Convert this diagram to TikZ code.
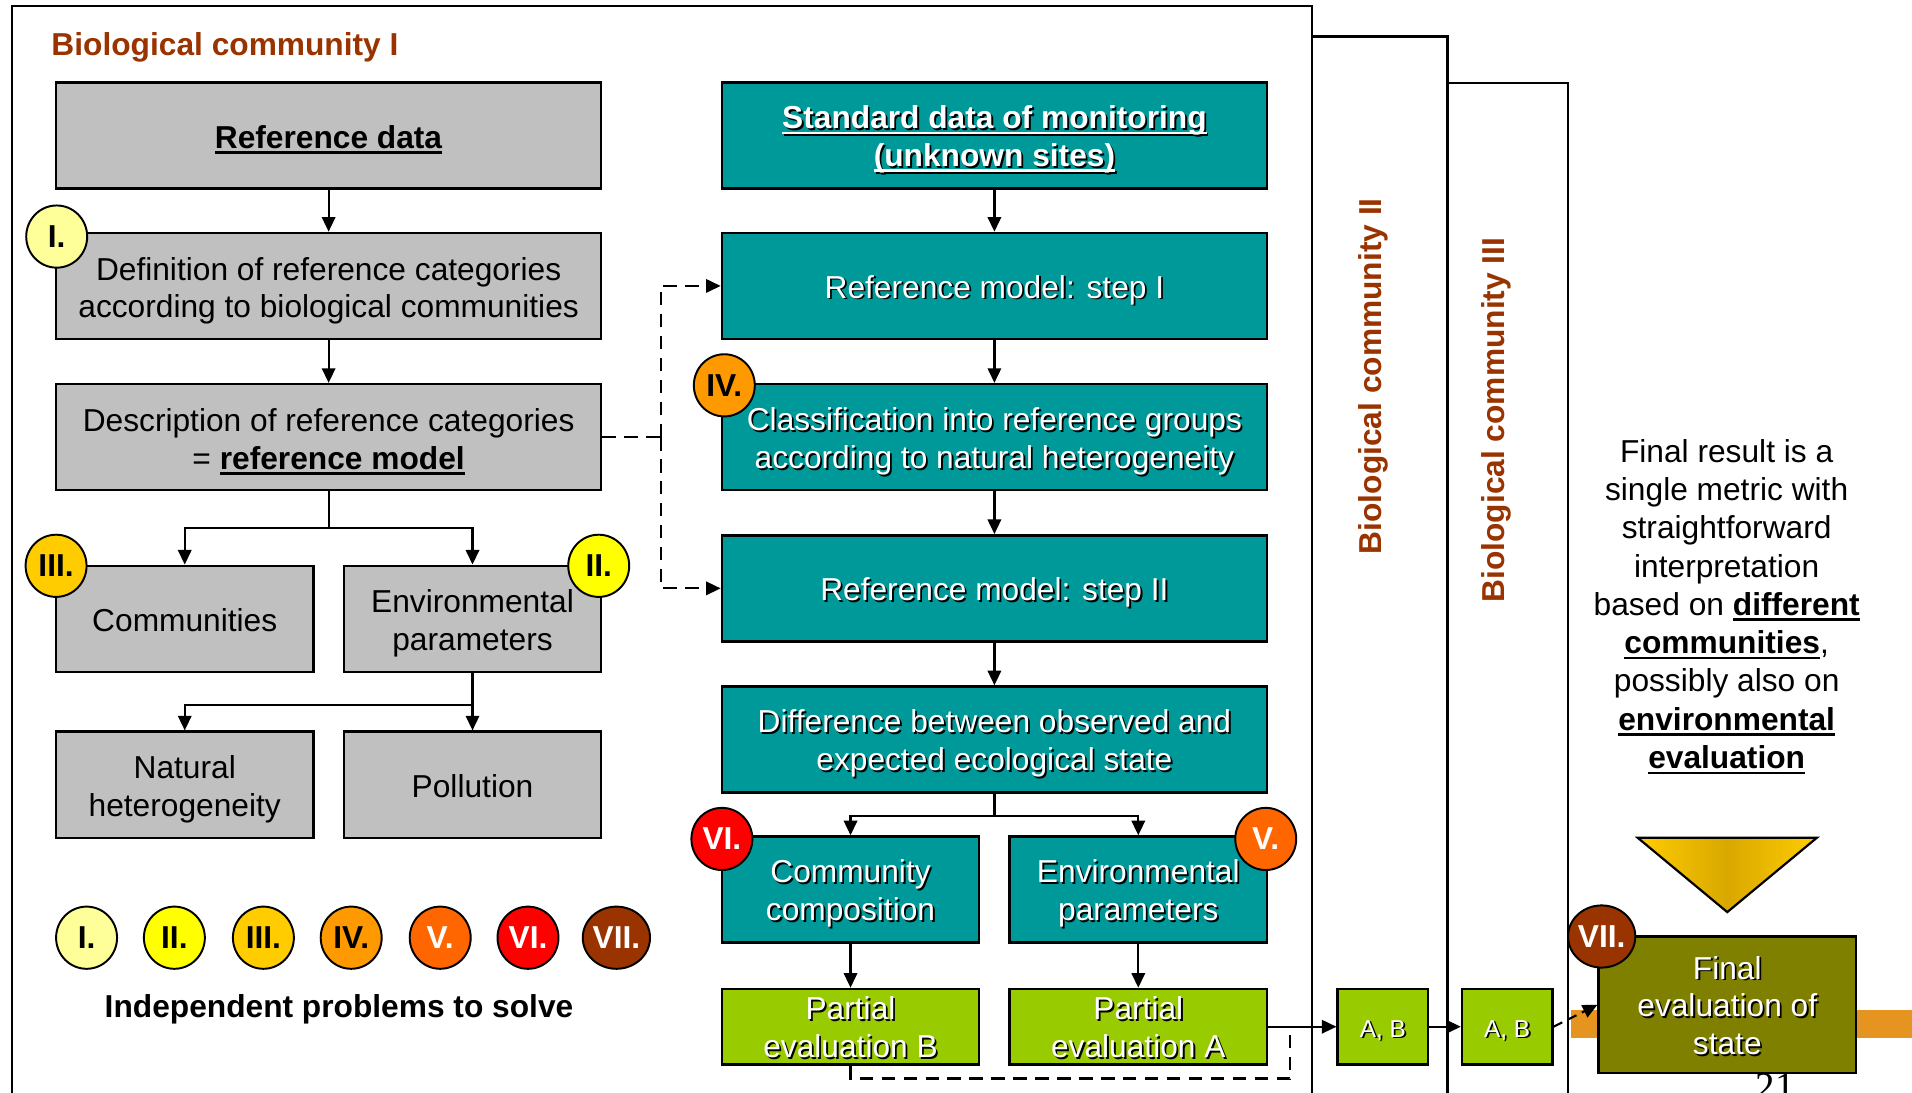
\documentclass[tikz,border=0pt]{standalone}
\usepackage{fontspec}
\setmainfont{Liberation Sans}
\newfontfamily\pagenumfont{Liberation Serif}
\usetikzlibrary{arrows.meta,shapes.geometric,calc}

\definecolor{cGray}{HTML}{C0C0C0}
\definecolor{cTeal}{HTML}{009999}
\definecolor{cGreen}{HTML}{99CC00}
\definecolor{cOlive}{HTML}{808000}
\definecolor{cBrown}{HTML}{993300}
\definecolor{cOrange}{HTML}{E5951F}
\definecolor{cGoldL}{HTML}{FFCC00}
\definecolor{cGoldM}{HTML}{D9A800}
\definecolor{pI}{HTML}{FFFF99}
\definecolor{pII}{HTML}{FFFF00}
\definecolor{pIII}{HTML}{FFCC00}
\definecolor{pIV}{HTML}{FF9900}
\definecolor{pV}{HTML}{FF6600}
\definecolor{pVI}{HTML}{FF0000}
\definecolor{pVII}{HTML}{993300}

% underline at a fixed depth
\newcommand\ulx[1]{\setbox0\hbox{#1}\rlap{\rule[-4.6pt]{\wd0}{2.1pt}}\box0}
% centred lines of text, set a little low so that the capitals sit in the middle
\newcommand\boxlines[1]{\raisebox{0pt}[\dimexpr\height+9pt\relax][\depth]{\begin{tabular}{@{}c@{}}#1\end{tabular}}}
% white text with a dark drop shadow
\newcommand\shadowed[1]{\leavevmode\rlap{\kern1.5pt\raisebox{-1.5pt}{\color{black}\boxlines{#1}}}{\color{white}\boxlines{#1}}}

\begin{document}
\begin{tikzpicture}[x=1pt,y=-1pt,
  every node/.style={inner sep=0pt, font=\fontsize{26}{31}\selectfont},
  blk/.style={draw=black, line width=2pt},
  graybox/.style={blk, fill=cGray},
  tealbox/.style={blk, fill=cTeal},
  greenbox/.style={blk, fill=cGreen},
  olivebox/.style={blk, fill=cOlive},
  wide/.style={minimum width=447pt, minimum height=87pt},
  half/.style={minimum width=211pt, minimum height=87pt},
  low/.style={minimum width=211pt, minimum height=62pt},
  badge/.style={ellipse, draw=black, line width=1.6pt, minimum width=50pt, minimum height=51pt,
    font=\fontsize{26}{31}\selectfont\bfseries},
  arr/.style={line width=1.8pt, -{Triangle[length=12pt,width=11pt]}},
  dsh/.style={line width=1.8pt, dash pattern=on 11pt off 7pt},
  frameline/.style={line width=2pt},
  commlabel/.style={text=cBrown, font=\fontsize{26}{31}\selectfont\bfseries}
]
\useasboundingbox (0,0) rectangle (1568,896);
\clip (0,0) rectangle (1568,896);
\fill[white] (0,0) rectangle (1568,896);

% orange band behind the final box
\fill[cOrange] (1288,828) rectangle (1568,851);

% community frames
\draw[frameline] (10,900) -- (10,5) -- (1076,5) -- (1076,900);
\draw[frameline] (1076,30) -- (1187,30) -- (1187,900);
\draw[frameline] (1187,68) -- (1286,68) -- (1286,900);

\node[commlabel, anchor=west] (t1) at (42,38.5) {Biological community I};
\node[commlabel, rotate=90] (t2) at (1126,308.5) {Biological community II};
\node[commlabel, rotate=90] (t3) at (1227,344.5) {Biological community III};

% reference column
\node[graybox, wide] (ref) at (269.5,111) {\boxlines{\ulx{\textbf{Reference data}}}};
\node[graybox, wide] (def) at (269.5,234.5) {\boxlines{Definition of reference categories\\according to biological communities}};
\node[graybox, wide] (desc) at (269.5,358.5) {\boxlines{Description of reference categories\\= \ulx{\textbf{reference model}}}};
\node[graybox, half] (comm) at (151.5,507.5) {\boxlines{Communities}};
\node[graybox, half] (envg) at (387.5,507.5) {\boxlines{Environmental\\parameters}};
\node[graybox, half] (nat) at (151.5,643.5) {\boxlines{Natural\\heterogeneity}};
\node[graybox, half] (poll) at (387.5,643.5) {\boxlines{Pollution}};

\draw[arr] (ref) -- (def);
\draw[arr] (def) -- (desc);
\draw[arr] (desc.south) -- ++(0,30) -| (comm.north);
\draw[arr] (desc.south) -- ++(0,30) -| (envg.north);
\draw[arr] (envg.south) -- ++(0,26) -| (nat.north);
\draw[arr] (envg.south) -- (poll.north);

% monitoring column
\node[tealbox, wide] (std) at (815.5,111) {\shadowed{\ulx{\textbf{Standard data of monitoring}}\\\ulx{\textbf{(unknown sites)}}}};
\node[tealbox, wide] (rm1) at (815.5,234.5) {\shadowed{Reference model: step I}};
\node[tealbox, wide] (cls) at (815.5,358.5) {\shadowed{Classification into reference groups\\according to natural heterogeneity}};
\node[tealbox, wide] (rm2) at (815.5,482.5) {\shadowed{Reference model: step II}};
\node[tealbox, wide] (diff) at (815.5,606.5) {\shadowed{Difference between observed and\\expected ecological state}};
\node[tealbox, half] (ccomp) at (697.5,729.5) {\shadowed{Community\\composition}};
\node[tealbox, half] (envt) at (933.5,729.5) {\shadowed{Environmental\\parameters}};
% the partial evaluations: text is taller than the boxes, so it is set separately
\node[greenbox, low] (pb) at (697.5,842) {};
\node (pbtext) at (pb.center) {\shadowed{Partial\\evaluation B}};
\node[greenbox, low] (pa) at (933.5,842) {};
\node (patext) at (pa.center) {\shadowed{Partial\\evaluation A}};

\draw[arr] (std) -- (rm1);
\draw[arr] (rm1) -- (cls);
\draw[arr] (cls) -- (rm2);
\draw[arr] (rm2) -- (diff);
\draw[arr] (diff.south) -- ++(0,18) -| (ccomp.north);
\draw[arr] (diff.south) -- ++(0,18) -| (envt.north);
\draw[arr] (ccomp) -- (pb);
\draw[arr] (envt) -- (pa);

% reference model feeding both steps
\coordinate (dj) at (542,358.5);
\draw[dsh] (desc.east) -- (dj);
\draw[dsh, arr] (dj) |- (rm1.west);
\draw[dsh, arr] (dj) |- (rm2.west);

% further communities
\node[greenbox, minimum width=74pt, minimum height=62pt, font=\fontsize{20}{24}\selectfont] (ab1) at (1134,842) {\shadowed{A, B}};
\node[greenbox, minimum width=74pt, minimum height=62pt, font=\fontsize{20}{24}\selectfont] (ab2) at (1236,842) {\shadowed{A, B}};

\coordinate (pbj) at (1058,884.5);
\draw[dsh] (pb.south) |- (pbj) -- (pbj |- pa.east) -- ++(18,0);
\draw[arr] (pa.east) -- (ab1.west);
\draw[arr] (ab1.east) -- (ab2.west);

% result
\node[font=\pagenumfont\fontsize{32}{34}\selectfont, anchor=base] (pg) at (1456,902) {21};
\node[olivebox, minimum width=211pt, minimum height=112pt] (final) at (1416.5,824) {\shadowed{Final\\evaluation of\\state}};
\draw[dsh, arr, dash pattern=on 8pt off 5pt] (ab2.east) -- (final.west);

\shadedraw[left color=cGoldL, right color=cGoldL, middle color=cGoldM, draw=black, line width=1.8pt]
  (1343,687) -- (1490,687) -- (1416.5,748) -- cycle;

\node[align=center, font=\fontsize{26}{31.4}\selectfont] (note) at (1416,497.5)
  {Final result is a\\single metric with\\straightforward\\interpretation\\based on \ulx{\textbf{different}}\\\ulx{\textbf{communities}},\\possibly also on\\\ulx{\textbf{environmental}}\\\ulx{\textbf{evaluation}}};

% problem badges on the boxes
\node[badge, fill=pI] (bI) at (46.5,194) {I.};
\node[badge, fill=pII] (bII) at (491,464) {II.};
\node[badge, fill=pIII] (bIII) at (46,464) {III.};
\node[badge, fill=pIV] (bIV) at (594,316) {IV.};
\node[badge, fill=pV, text=white] (bV) at (1038,688) {V.};
\node[badge, fill=pVI, text=white] (bVI) at (592,688) {VI.};
\node[badge, fill=pVII, text=white] (bVII) at (1313.5,768) {VII.};

% legend
\node[badge, fill=pI] (l1) at (71,769) {I.};
\node[badge, fill=pII] (l2) at (143,769) {II.};
\node[badge, fill=pIII] (l3) at (216,769) {III.};
\node[badge, fill=pIV] (l4) at (288,769) {IV.};
\node[badge, fill=pV, text=white] (l5) at (361,769) {V.};
\node[badge, fill=pVI, text=white] (l6) at (433,769) {VI.};
\node[badge, fill=pVII, text=white] (l7) at (505.5,769) {VII.};
\node[font=\fontsize{26}{31}\selectfont\bfseries] (legend) at (278,828) {Independent problems to solve};
\end{tikzpicture}
\end{document}
